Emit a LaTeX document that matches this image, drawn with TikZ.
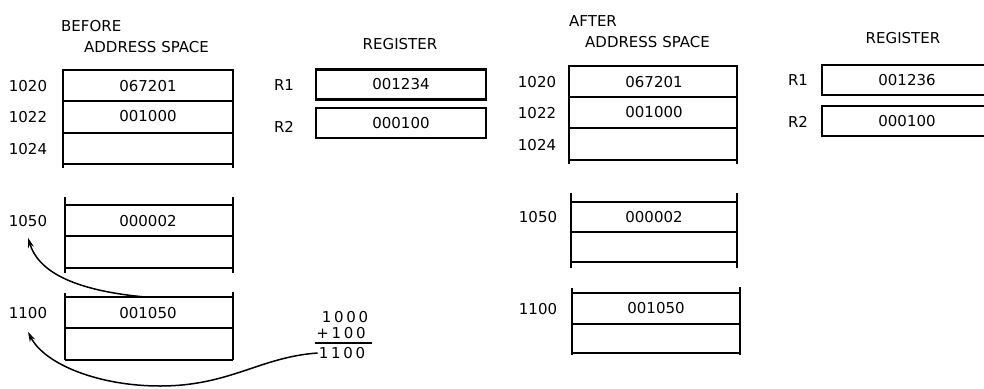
\documentclass[tikz,border=0pt]{standalone}
\usepackage{fontspec}
\setmainfont{DejaVu Sans}
\usetikzlibrary{arrows.meta,calc}
\begin{document}
\begin{tikzpicture}[x=1pt,y=-1pt,
  txt/.style={font=\fontsize{15}{17}\selectfont, inner sep=1pt},
  sumtxt/.style={font=\fontsize{15}{17}\selectfont\addfontfeatures{LetterSpace=18}, inner sep=1pt},
  box/.style={line width=2.3pt},
  regbox/.style={draw, line width=2.3pt, rectangle, minimum height=30pt, font=\fontsize{15}{17}\selectfont},
  arr/.style={line width=1.5pt, -{Stealth[length=10pt,width=6pt]}},
]
\useasboundingbox (0,0) rectangle (984,388);

% ---------- BEFORE ----------
\node[txt, anchor=west] (before) at (60,26) {BEFORE};
\node[txt] (bas) at (146.5,47) {ADDRESS SPACE};
\node[txt] (breg) at (400,44) {REGISTER};

% block 1
\foreach \yy in {70,101,133,164} \draw[box] (63,\yy) -- (233,\yy);
\draw[box] (63,69) -- (63,168);
\draw[box] (233,69) -- (233,168);
% block 2
\foreach \yy in {205,236,268} \draw[box] (65,\yy) -- (233,\yy);
\draw[box] (65,197) -- (65,273);
\draw[box] (233,197) -- (233,273);
% block 3
\foreach \yy in {297,328,360} \draw[box] (65,\yy) -- (233,\yy);
\draw[box] (65,293) -- (65,360);
\draw[box] (233,292) -- (233,360);

\node[txt] (b1020) at (28,86) {1020};
\node[txt] (b1022) at (28,117) {1022};
\node[txt] (b1024) at (28,149) {1024};
\node[txt] (b1050) at (28,221) {1050};
\node[txt] (b1100) at (28,313) {1100};

\node[txt] (bc1) at (148,86) {067201};
\node[txt] (bc2) at (148,116) {001000};
\node[txt] (bc3) at (148,221) {000002};
\node[txt] (bc4) at (148,313) {001050};

\node[txt] (br1l) at (284,85) {R1};
\node[txt] (br2l) at (284,127) {R2};
\node[regbox, minimum width=170pt] (br1) at (401,84.5) {001234};
\node[regbox, minimum width=170pt] (br2) at (401,123) {000100};

% arithmetic
\node[sumtxt] (add1) at (345,317) {1000};
\node[sumtxt] (add2) at (341,333) {+100};
\node[sumtxt] (sum) at (342,353) {1100};
\draw[line width=1.4pt] (315,343) -- (372,343);

\coordinate (b3top) at (145,297);
\draw[arr] (b3top) .. controls (70,290) and (38,270) .. ($(b1050.south)+(0,10)$);
\draw[arr] (sum.west) .. controls (260,357) and (230,386) .. (160,386)
  .. controls (100,386) and (45,365) .. ($(b1100.south)+(0,12)$);

% ---------- AFTER ----------
\node[txt, anchor=west] (after) at (568,21) {AFTER};
\node[txt] (aas) at (647.5,42) {ADDRESS SPACE};
\node[txt] (areg) at (903,38) {REGISTER};

\foreach \yy in {66,97,128,160} \draw[box] (569,\yy) -- (737,\yy);
\draw[box] (569,65) -- (569,164);
\draw[box] (737,65) -- (737,164);
\foreach \yy in {202,232,262} \draw[box] (571,\yy) -- (737,\yy);
\draw[box] (571,193) -- (571,268);
\draw[box] (737,193) -- (737,268);
\foreach \yy in {293,324,353} \draw[box] (572,\yy) -- (740,\yy);
\draw[box] (572,288) -- (572,355);
\draw[box] (740,287) -- (740,355);

\node[txt] (a1020) at (537,82) {1020};
\node[txt] (a1022) at (537,113) {1022};
\node[txt] (a1024) at (537,145) {1024};
\node[txt] (a1050) at (538,217) {1050};
\node[txt] (a1100) at (538,309) {1100};

\node[txt] (ac1) at (654,82) {067201};
\node[txt] (ac2) at (654,112) {001000};
\node[txt] (ac3) at (654,217) {000002};
\node[txt] (ac4) at (656,308) {001050};

\node[txt] (ar1l) at (798,80) {R1};
\node[txt] (ar2l) at (798,122) {R2};
\node[regbox, minimum width=170pt] (ar1) at (907,80) {001236};
\node[regbox, minimum width=170pt] (ar2) at (907,121) {000100};
\end{tikzpicture}
\end{document}
